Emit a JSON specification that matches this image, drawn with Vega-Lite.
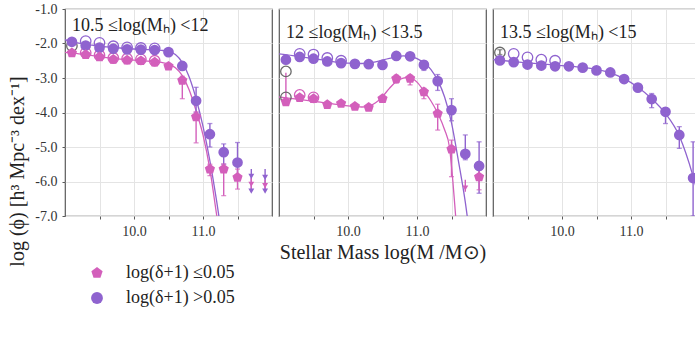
{
  "$schema": "https://vega.github.io/schema/vega-lite/v6.json",
  "padding": {"left": 6, "top": 1, "right": 0, "bottom": 5},
  "background": "white",
  "spacing": 4,
  "datasets": {
    "pts": [
      {"p": 1, "g": "high", "x": 9.1, "y": -1.95}, {"p": 1, "g": "high", "x": 9.3, "y": -2.06}, {"p": 1, "g": "high", "x": 9.5, "y": -2.12}, {"p": 1, "g": "high", "x": 9.7, "y": -2.15}, {"p": 1, "g": "high", "x": 9.9, "y": -2.17}, {"p": 1, "g": "high", "x": 10.1, "y": -2.18}, {"p": 1, "g": "high", "x": 10.3, "y": -2.19}, {"p": 1, "g": "high", "x": 10.5, "y": -2.25}, {"p": 1, "g": "high", "x": 10.7, "y": -2.65}, {"p": 1, "g": "high", "x": 10.9, "y": -3.66}, {"p": 1, "g": "high", "x": 11.1, "y": -4.63}, {"p": 1, "g": "high", "x": 11.3, "y": -5.15}, {"p": 1, "g": "high", "x": 11.5, "y": -5.45},
      {"p": 1, "g": "low", "x": 9.1, "y": -2.27}, {"p": 1, "g": "low", "x": 9.3, "y": -2.32}, {"p": 1, "g": "low", "x": 9.5, "y": -2.39}, {"p": 1, "g": "low", "x": 9.7, "y": -2.46}, {"p": 1, "g": "low", "x": 9.9, "y": -2.48}, {"p": 1, "g": "low", "x": 10.1, "y": -2.5}, {"p": 1, "g": "low", "x": 10.3, "y": -2.54}, {"p": 1, "g": "low", "x": 10.5, "y": -2.66}, {"p": 1, "g": "low", "x": 10.7, "y": -3.07}, {"p": 1, "g": "low", "x": 10.9, "y": -4.13}, {"p": 1, "g": "low", "x": 11.1, "y": -5.64}, {"p": 1, "g": "low", "x": 11.3, "y": -5.64}, {"p": 1, "g": "low", "x": 11.5, "y": -5.88},
      {"p": 2, "g": "high", "x": 9.1, "y": -2.47}, {"p": 2, "g": "high", "x": 9.3, "y": -2.39}, {"p": 2, "g": "high", "x": 9.5, "y": -2.44}, {"p": 2, "g": "high", "x": 9.7, "y": -2.52}, {"p": 2, "g": "high", "x": 9.9, "y": -2.57}, {"p": 2, "g": "high", "x": 10.1, "y": -2.59}, {"p": 2, "g": "high", "x": 10.3, "y": -2.6}, {"p": 2, "g": "high", "x": 10.5, "y": -2.62}, {"p": 2, "g": "high", "x": 10.7, "y": -2.36}, {"p": 2, "g": "high", "x": 10.9, "y": -2.37}, {"p": 2, "g": "high", "x": 11.1, "y": -2.62}, {"p": 2, "g": "high", "x": 11.3, "y": -3.09}, {"p": 2, "g": "high", "x": 11.5, "y": -3.93}, {"p": 2, "g": "high", "x": 11.7, "y": -5.2}, {"p": 2, "g": "high", "x": 11.9, "y": -5.55},
      {"p": 2, "g": "low", "x": 9.1, "y": -3.69}, {"p": 2, "g": "low", "x": 9.3, "y": -3.57}, {"p": 2, "g": "low", "x": 9.5, "y": -3.6}, {"p": 2, "g": "low", "x": 9.7, "y": -3.77}, {"p": 2, "g": "low", "x": 9.9, "y": -3.74}, {"p": 2, "g": "low", "x": 10.1, "y": -3.82}, {"p": 2, "g": "low", "x": 10.3, "y": -3.85}, {"p": 2, "g": "low", "x": 10.5, "y": -3.6}, {"p": 2, "g": "low", "x": 10.7, "y": -3.02}, {"p": 2, "g": "low", "x": 10.9, "y": -3.01}, {"p": 2, "g": "low", "x": 11.1, "y": -3.4}, {"p": 2, "g": "low", "x": 11.3, "y": -4.03}, {"p": 2, "g": "low", "x": 11.5, "y": -5.06}, {"p": 2, "g": "low", "x": 11.9, "y": -5.87},
      {"p": 3, "g": "high", "x": 9.1, "y": -2.49}, {"p": 3, "g": "high", "x": 9.3, "y": -2.54}, {"p": 3, "g": "high", "x": 9.5, "y": -2.61}, {"p": 3, "g": "high", "x": 9.7, "y": -2.64}, {"p": 3, "g": "high", "x": 9.9, "y": -2.66}, {"p": 3, "g": "high", "x": 10.1, "y": -2.66}, {"p": 3, "g": "high", "x": 10.3, "y": -2.7}, {"p": 3, "g": "high", "x": 10.5, "y": -2.78}, {"p": 3, "g": "high", "x": 10.7, "y": -2.84}, {"p": 3, "g": "high", "x": 10.9, "y": -3.03}, {"p": 3, "g": "high", "x": 11.1, "y": -3.28}, {"p": 3, "g": "high", "x": 11.3, "y": -3.61}, {"p": 3, "g": "high", "x": 11.5, "y": -3.98}, {"p": 3, "g": "high", "x": 11.7, "y": -4.65}, {"p": 3, "g": "high", "x": 11.9, "y": -5.9}
    ],
    "err": [
      {"p": 1, "g": "high", "x": 10.5, "lo": -2.32, "hi": -2.18}, {"p": 1, "g": "high", "x": 10.7, "lo": -2.75, "hi": -2.54}, {"p": 1, "g": "high", "x": 10.9, "lo": -4.0, "hi": -3.27}, {"p": 1, "g": "high", "x": 11.1, "lo": -5.0, "hi": -4.32}, {"p": 1, "g": "high", "x": 11.3, "lo": -5.5, "hi": -4.91}, {"p": 1, "g": "high", "x": 11.5, "lo": -5.83, "hi": -4.87},
      {"p": 1, "g": "low", "x": 10.5, "lo": -2.75, "hi": -2.58}, {"p": 1, "g": "low", "x": 10.7, "lo": -3.6, "hi": -2.95}, {"p": 1, "g": "low", "x": 10.9, "lo": -4.88, "hi": -3.98}, {"p": 1, "g": "low", "x": 11.1, "lo": -5.83, "hi": -5.5}, {"p": 1, "g": "low", "x": 11.3, "lo": -6.41, "hi": -5.49}, {"p": 1, "g": "low", "x": 11.5, "lo": -6.22, "hi": -5.64},
      {"p": 2, "g": "high", "x": 11.1, "lo": -2.78, "hi": -2.5}, {"p": 2, "g": "high", "x": 11.3, "lo": -3.36, "hi": -2.9}, {"p": 2, "g": "high", "x": 11.5, "lo": -4.24, "hi": -3.6}, {"p": 2, "g": "high", "x": 11.7, "lo": -5.37, "hi": -4.65}, {"p": 2, "g": "high", "x": 11.9, "lo": -6.34, "hi": -4.85},
      {"p": 2, "g": "low", "x": 10.7, "lo": -3.15, "hi": -2.92}, {"p": 2, "g": "low", "x": 10.9, "lo": -3.2, "hi": -2.92}, {"p": 2, "g": "low", "x": 11.1, "lo": -3.6, "hi": -3.3}, {"p": 2, "g": "low", "x": 11.3, "lo": -4.51, "hi": -3.76}, {"p": 2, "g": "low", "x": 11.5, "lo": -5.86, "hi": -4.8}, {"p": 2, "g": "low", "x": 11.9, "lo": -6.24, "hi": -5.62},
      {"p": 2, "g": "low", "x": 9.1, "lo": -3.6, "hi": -2.85},
      {"p": 3, "g": "high", "x": 11.3, "lo": -3.86, "hi": -3.45}, {"p": 3, "g": "high", "x": 11.5, "lo": -4.32, "hi": -3.86}, {"p": 3, "g": "high", "x": 11.7, "lo": -5.04, "hi": -4.41}, {"p": 3, "g": "high", "x": 11.9, "lo": -7.0, "hi": -4.85},
      {"p": 3, "g": "gray", "x": 9.1, "lo": -2.32, "hi": -2.18}
    ],
    "lim": [
      {"p": 1, "g": "high", "x": 11.7, "y": -5.85, "lo": -6.28, "hi": -5.64}, {"p": 1, "g": "high", "x": 11.7, "y": -6.28, "lo": -6.28, "hi": -6.28},
      {"p": 1, "g": "low", "x": 11.7, "y": -6.08, "lo": -6.3, "hi": -5.9},
      {"p": 1, "g": "high", "x": 11.9, "y": -5.88, "lo": -6.28, "hi": -5.64}, {"p": 1, "g": "high", "x": 11.9, "y": -6.28, "lo": -6.28, "hi": -6.28},
      {"p": 1, "g": "low", "x": 11.9, "y": -6.12, "lo": -6.3, "hi": -5.95},
      {"p": 2, "g": "low", "x": 11.7, "y": -6.19, "lo": -6.3, "hi": -5.95}
    ],
    "open": [
      {"p": 1, "g": "high", "x": 9.3, "y": -1.93}, {"p": 1, "g": "high", "x": 9.5, "y": -1.98}, {"p": 1, "g": "high", "x": 9.7, "y": -2.08}, {"p": 1, "g": "high", "x": 9.9, "y": -2.11}, {"p": 1, "g": "high", "x": 10.1, "y": -2.13}, {"p": 1, "g": "high", "x": 10.3, "y": -2.14},
      {"p": 1, "g": "low", "x": 9.3, "y": -2.27}, {"p": 1, "g": "low", "x": 9.5, "y": -2.34}, {"p": 1, "g": "low", "x": 9.7, "y": -2.42}, {"p": 1, "g": "low", "x": 9.9, "y": -2.44}, {"p": 1, "g": "low", "x": 10.1, "y": -2.46}, {"p": 1, "g": "low", "x": 10.3, "y": -2.5},
      {"p": 1, "g": "gray", "x": 9.1, "y": -2.07},
      {"p": 2, "g": "high", "x": 9.3, "y": -2.3}, {"p": 2, "g": "high", "x": 9.5, "y": -2.32}, {"p": 2, "g": "high", "x": 9.7, "y": -2.42}, {"p": 2, "g": "high", "x": 9.9, "y": -2.5},
      {"p": 2, "g": "low", "x": 9.3, "y": -3.49}, {"p": 2, "g": "low", "x": 9.5, "y": -3.56},
      {"p": 2, "g": "gray", "x": 9.1, "y": -2.81}, {"p": 2, "g": "gray", "x": 9.1, "y": -3.56},
      {"p": 3, "g": "high", "x": 9.3, "y": -2.3}, {"p": 3, "g": "high", "x": 9.5, "y": -2.4}, {"p": 3, "g": "high", "x": 9.7, "y": -2.47}, {"p": 3, "g": "high", "x": 9.9, "y": -2.5},
      {"p": 3, "g": "gray", "x": 9.1, "y": -2.26}
    ],
    "fit": [
      {"p": 1, "g": "high", "x": 9.0, "y": -1.89}, {"p": 1, "g": "high", "x": 9.2, "y": -1.99}, {"p": 1, "g": "high", "x": 9.4, "y": -2.05}, {"p": 1, "g": "high", "x": 9.6, "y": -2.1}, {"p": 1, "g": "high", "x": 9.8, "y": -2.13}, {"p": 1, "g": "high", "x": 10.0, "y": -2.16}, {"p": 1, "g": "high", "x": 10.2, "y": -2.18}, {"p": 1, "g": "high", "x": 10.4, "y": -2.2}, {"p": 1, "g": "high", "x": 10.5, "y": -2.23}, {"p": 1, "g": "high", "x": 10.6, "y": -2.32}, {"p": 1, "g": "high", "x": 10.7, "y": -2.55}, {"p": 1, "g": "high", "x": 10.8, "y": -2.97}, {"p": 1, "g": "high", "x": 10.9, "y": -3.6}, {"p": 1, "g": "high", "x": 11.0, "y": -4.4}, {"p": 1, "g": "high", "x": 11.1, "y": -5.4}, {"p": 1, "g": "high", "x": 11.2, "y": -6.6}, {"p": 1, "g": "high", "x": 11.26, "y": -7.4},
      {"p": 1, "g": "low", "x": 9.0, "y": -2.26}, {"p": 1, "g": "low", "x": 9.2, "y": -2.3}, {"p": 1, "g": "low", "x": 9.4, "y": -2.35}, {"p": 1, "g": "low", "x": 9.6, "y": -2.41}, {"p": 1, "g": "low", "x": 9.8, "y": -2.45}, {"p": 1, "g": "low", "x": 10.0, "y": -2.48}, {"p": 1, "g": "low", "x": 10.2, "y": -2.51}, {"p": 1, "g": "low", "x": 10.4, "y": -2.55}, {"p": 1, "g": "low", "x": 10.5, "y": -2.6}, {"p": 1, "g": "low", "x": 10.6, "y": -2.7}, {"p": 1, "g": "low", "x": 10.7, "y": -2.93}, {"p": 1, "g": "low", "x": 10.8, "y": -3.35}, {"p": 1, "g": "low", "x": 10.9, "y": -3.95}, {"p": 1, "g": "low", "x": 11.0, "y": -4.65}, {"p": 1, "g": "low", "x": 11.1, "y": -5.65}, {"p": 1, "g": "low", "x": 11.2, "y": -7.0}, {"p": 1, "g": "low", "x": 11.23, "y": -7.4},
      {"p": 2, "g": "high", "x": 9.0, "y": -2.3}, {"p": 2, "g": "high", "x": 9.2, "y": -2.35}, {"p": 2, "g": "high", "x": 9.4, "y": -2.41}, {"p": 2, "g": "high", "x": 9.6, "y": -2.47}, {"p": 2, "g": "high", "x": 9.8, "y": -2.53}, {"p": 2, "g": "high", "x": 10.0, "y": -2.57}, {"p": 2, "g": "high", "x": 10.2, "y": -2.58}, {"p": 2, "g": "high", "x": 10.4, "y": -2.53}, {"p": 2, "g": "high", "x": 10.6, "y": -2.43}, {"p": 2, "g": "high", "x": 10.8, "y": -2.36}, {"p": 2, "g": "high", "x": 10.9, "y": -2.37}, {"p": 2, "g": "high", "x": 11.0, "y": -2.44}, {"p": 2, "g": "high", "x": 11.1, "y": -2.56}, {"p": 2, "g": "high", "x": 11.2, "y": -2.75}, {"p": 2, "g": "high", "x": 11.3, "y": -3.07}, {"p": 2, "g": "high", "x": 11.4, "y": -3.55}, {"p": 2, "g": "high", "x": 11.5, "y": -4.3}, {"p": 2, "g": "high", "x": 11.6, "y": -5.4}, {"p": 2, "g": "high", "x": 11.7, "y": -6.6}, {"p": 2, "g": "high", "x": 11.76, "y": -7.5},
      {"p": 2, "g": "low", "x": 9.0, "y": -3.55}, {"p": 2, "g": "low", "x": 9.2, "y": -3.6}, {"p": 2, "g": "low", "x": 9.4, "y": -3.65}, {"p": 2, "g": "low", "x": 9.6, "y": -3.7}, {"p": 2, "g": "low", "x": 9.8, "y": -3.76}, {"p": 2, "g": "low", "x": 10.0, "y": -3.81}, {"p": 2, "g": "low", "x": 10.2, "y": -3.84}, {"p": 2, "g": "low", "x": 10.3, "y": -3.82}, {"p": 2, "g": "low", "x": 10.4, "y": -3.72}, {"p": 2, "g": "low", "x": 10.5, "y": -3.54}, {"p": 2, "g": "low", "x": 10.6, "y": -3.3}, {"p": 2, "g": "low", "x": 10.7, "y": -3.1}, {"p": 2, "g": "low", "x": 10.8, "y": -3.0}, {"p": 2, "g": "low", "x": 10.87, "y": -2.98}, {"p": 2, "g": "low", "x": 11.0, "y": -3.12}, {"p": 2, "g": "low", "x": 11.1, "y": -3.38}, {"p": 2, "g": "low", "x": 11.2, "y": -3.66}, {"p": 2, "g": "low", "x": 11.3, "y": -4.02}, {"p": 2, "g": "low", "x": 11.4, "y": -4.5}, {"p": 2, "g": "low", "x": 11.47, "y": -5.0}, {"p": 2, "g": "low", "x": 11.52, "y": -6.0}, {"p": 2, "g": "low", "x": 11.56, "y": -7.0}, {"p": 2, "g": "low", "x": 11.58, "y": -7.5},
      {"p": 3, "g": "high", "x": 9.0, "y": -2.47}, {"p": 3, "g": "high", "x": 9.5, "y": -2.56}, {"p": 3, "g": "high", "x": 10.0, "y": -2.64}, {"p": 3, "g": "high", "x": 10.3, "y": -2.69}, {"p": 3, "g": "high", "x": 10.5, "y": -2.75}, {"p": 3, "g": "high", "x": 10.7, "y": -2.85}, {"p": 3, "g": "high", "x": 10.9, "y": -3.02}, {"p": 3, "g": "high", "x": 11.1, "y": -3.27}, {"p": 3, "g": "high", "x": 11.3, "y": -3.6}, {"p": 3, "g": "high", "x": 11.5, "y": -4.03}, {"p": 3, "g": "high", "x": 11.7, "y": -4.68}, {"p": 3, "g": "high", "x": 11.9, "y": -5.85}, {"p": 3, "g": "high", "x": 12.0, "y": -6.6}
    ]
  },
  "hconcat": [
    {
      "width": 207, "height": 207,
      "title": {"text": "10.5 ≤log(Mₕ) <12", "anchor": "start", "frame": "group", "offset": -24, "dx": 7, "dy": 23, "baseline": "alphabetic", "fontSize": 18, "fontWeight": "normal", "font": "Liberation Serif", "color": "#222"},
      "encoding": {
        "x": {"field": "x", "type": "quantitative", "scale": {"domain": [9, 12], "nice": false, "zero": false},
              "axis": {"values": [9.5, 10, 10.5, 11, 11.5], "labelExpr": "datum.value == 10 || datum.value == 11 ? format(datum.value, '.1f') : ''", "title": null, "labelFlush": false, "labelOverlap": false}},
        "y": {"field": "y", "type": "quantitative", "scale": {"domain": [-7, -1], "nice": false, "zero": false},
              "axis": {"values": [-1, -2, -3, -4, -5, -6, -7], "labelExpr": "'-' + format(abs(datum.value), '.1f')", "labelFlush": false, "labelOverlap": false,
                       "title": "log (ϕ) [h³ Mpc⁻³ dex⁻¹]", "titleFontSize": 20, "titleX": -48, "titleY": 162, "titleAlign": "center", "titleBaseline": "middle", "titleAngle": -90}}
      },
      "layer": [
        {"data": {"name": "fit"}, "transform": [{"filter": "datum.p == 1"}],
         "mark": {"type": "line", "interpolate": "monotone", "clip": true, "strokeWidth": 1.3},
         "encoding": {"stroke": {"field": "g", "type": "nominal", "scale": {"domain": ["low", "high", "gray"], "range": ["#d35fbb", "#8f63cf", "#6a6a6a"]}, "legend": null}}},
        {"data": {"name": "err"}, "transform": [{"filter": "datum.p == 1"}],
         "mark": {"type": "rule", "strokeWidth": 1.4, "clip": true},
         "encoding": {"y": {"field": "lo", "type": "quantitative"}, "y2": {"field": "hi"},
                      "stroke": {"field": "g", "type": "nominal", "scale": {"domain": ["low", "high", "gray"], "range": ["#d35fbb", "#8f63cf", "#6a6a6a"]}, "legend": null}}},
        {"data": {"name": "err"}, "transform": [{"filter": "datum.p == 1"}],
         "mark": {"type": "tick", "orient": "horizontal", "size": 5, "thickness": 1.3, "clip": true},
         "encoding": {"y": {"field": "lo", "type": "quantitative"},
                      "fill": {"field": "g", "type": "nominal", "scale": {"domain": ["low", "high", "gray"], "range": ["#d35fbb", "#8f63cf", "#6a6a6a"]}, "legend": null}}},
        {"data": {"name": "err"}, "transform": [{"filter": "datum.p == 1"}],
         "mark": {"type": "tick", "orient": "horizontal", "size": 5, "thickness": 1.3, "clip": true},
         "encoding": {"y": {"field": "hi", "type": "quantitative"},
                      "fill": {"field": "g", "type": "nominal", "scale": {"domain": ["low", "high", "gray"], "range": ["#d35fbb", "#8f63cf", "#6a6a6a"]}, "legend": null}}},
        {"data": {"name": "lim"}, "transform": [{"filter": "datum.p == 1"}],
         "mark": {"type": "rule", "strokeWidth": 1.4, "clip": true},
         "encoding": {"y": {"field": "lo", "type": "quantitative"}, "y2": {"field": "hi"},
                      "stroke": {"field": "g", "type": "nominal", "scale": {"domain": ["low", "high", "gray"], "range": ["#d35fbb", "#8f63cf", "#6a6a6a"]}, "legend": null}}},
        {"data": {"name": "lim"}, "transform": [{"filter": "datum.p == 1"}],
         "mark": {"type": "point", "shape": "triangle-down", "filled": true, "opacity": 1, "size": 35, "clip": true},
         "encoding": {"fill": {"field": "g", "type": "nominal", "scale": {"domain": ["low", "high", "gray"], "range": ["#d35fbb", "#8f63cf", "#6a6a6a"]}, "legend": null}}},
        {"data": {"name": "open"}, "transform": [{"filter": "datum.p == 1"}],
         "mark": {"type": "point", "filled": false, "strokeWidth": 1.3, "size": 110, "opacity": 1},
         "encoding": {"stroke": {"field": "g", "type": "nominal", "scale": {"domain": ["low", "high", "gray"], "range": ["#d35fbb", "#8f63cf", "#6a6a6a"]}, "legend": null}}},
        {"data": {"name": "pts"}, "transform": [{"filter": "datum.p == 1"}],
         "mark": {"type": "point", "filled": true, "size": 115, "opacity": 1, "clip": true},
         "encoding": {
           "color": {"field": "g", "type": "nominal", "scale": {"domain": ["low", "high"], "range": ["#d35fbb", "#8f63cf"]},
                     "legend": {"orient": "none", "legendX": 23, "legendY": 255, "title": null, "labelExpr": "datum.value == 'low' ? 'log(δ+1) ≤0.05' : 'log(δ+1) >0.05'"}},
           "shape": {"field": "g", "type": "nominal", "scale": {"domain": ["low", "high"], "range": ["M0,-1L0.951,-0.309L0.588,0.809L-0.588,0.809L-0.951,-0.309Z", "circle"]},
                     "legend": {"orient": "none", "legendX": 23, "legendY": 255, "title": null, "labelExpr": "datum.value == 'low' ? 'log(δ+1) ≤0.05' : 'log(δ+1) >0.05'"}}
         }}
      ]
    },
    {
      "width": 207, "height": 207,
      "title": {"text": "12 ≤log(Mₕ) <13.5", "anchor": "start", "frame": "group", "offset": -24, "dx": 7, "dy": 23, "baseline": "alphabetic", "fontSize": 18, "fontWeight": "normal", "font": "Liberation Serif", "color": "#222"},
      "encoding": {
        "x": {"field": "x", "type": "quantitative", "scale": {"domain": [9, 12], "nice": false, "zero": false},
              "axis": {"values": [9.5, 10, 10.5, 11, 11.5], "labelExpr": "datum.value == 10 || datum.value == 11 ? format(datum.value, '.1f') : ''", "title": "Stellar Mass log(M /M⊙)", "titleFontSize": 20, "labelFlush": false, "labelOverlap": false}},
        "y": {"field": "y", "type": "quantitative", "scale": {"domain": [-7, -1], "nice": false, "zero": false},
              "axis": {"values": [-1, -2, -3, -4, -5, -6, -7], "labels": false, "ticks": false, "title": null}}
      },
      "layer": [
        {"data": {"name": "fit"}, "transform": [{"filter": "datum.p == 2"}],
         "mark": {"type": "line", "interpolate": "monotone", "clip": true, "strokeWidth": 1.3},
         "encoding": {"stroke": {"field": "g", "type": "nominal", "scale": {"domain": ["low", "high", "gray"], "range": ["#d35fbb", "#8f63cf", "#6a6a6a"]}, "legend": null}}},
        {"data": {"name": "err"}, "transform": [{"filter": "datum.p == 2"}],
         "mark": {"type": "rule", "strokeWidth": 1.4, "clip": true},
         "encoding": {"y": {"field": "lo", "type": "quantitative"}, "y2": {"field": "hi"},
                      "stroke": {"field": "g", "type": "nominal", "scale": {"domain": ["low", "high", "gray"], "range": ["#d35fbb", "#8f63cf", "#6a6a6a"]}, "legend": null}}},
        {"data": {"name": "err"}, "transform": [{"filter": "datum.p == 2 && datum.x > 9.2"}],
         "mark": {"type": "tick", "orient": "horizontal", "size": 5, "thickness": 1.3, "clip": true},
         "encoding": {"y": {"field": "lo", "type": "quantitative"},
                      "fill": {"field": "g", "type": "nominal", "scale": {"domain": ["low", "high", "gray"], "range": ["#d35fbb", "#8f63cf", "#6a6a6a"]}, "legend": null}}},
        {"data": {"name": "err"}, "transform": [{"filter": "datum.p == 2 && datum.x > 9.2"}],
         "mark": {"type": "tick", "orient": "horizontal", "size": 5, "thickness": 1.3, "clip": true},
         "encoding": {"y": {"field": "hi", "type": "quantitative"},
                      "fill": {"field": "g", "type": "nominal", "scale": {"domain": ["low", "high", "gray"], "range": ["#d35fbb", "#8f63cf", "#6a6a6a"]}, "legend": null}}},
        {"data": {"name": "lim"}, "transform": [{"filter": "datum.p == 2"}],
         "mark": {"type": "rule", "strokeWidth": 1.4, "clip": true},
         "encoding": {"y": {"field": "lo", "type": "quantitative"}, "y2": {"field": "hi"},
                      "stroke": {"field": "g", "type": "nominal", "scale": {"domain": ["low", "high", "gray"], "range": ["#d35fbb", "#8f63cf", "#6a6a6a"]}, "legend": null}}},
        {"data": {"name": "lim"}, "transform": [{"filter": "datum.p == 2"}],
         "mark": {"type": "point", "shape": "triangle-down", "filled": true, "opacity": 1, "size": 35, "clip": true},
         "encoding": {"fill": {"field": "g", "type": "nominal", "scale": {"domain": ["low", "high", "gray"], "range": ["#d35fbb", "#8f63cf", "#6a6a6a"]}, "legend": null}}},
        {"data": {"name": "open"}, "transform": [{"filter": "datum.p == 2"}],
         "mark": {"type": "point", "filled": false, "strokeWidth": 1.3, "size": 110, "opacity": 1},
         "encoding": {"stroke": {"field": "g", "type": "nominal", "scale": {"domain": ["low", "high", "gray"], "range": ["#d35fbb", "#8f63cf", "#6a6a6a"]}, "legend": null}}},
        {"data": {"name": "pts"}, "transform": [{"filter": "datum.p == 2"}],
         "mark": {"type": "point", "filled": true, "size": 115, "opacity": 1, "clip": true},
         "encoding": {
           "color": {"field": "g", "type": "nominal", "scale": {"domain": ["low", "high"], "range": ["#d35fbb", "#8f63cf"]},
                     "legend": {"orient": "none", "legendX": 23, "legendY": 255, "title": null, "labelExpr": "datum.value == 'low' ? 'log(δ+1) ≤0.05' : 'log(δ+1) >0.05'"}},
           "shape": {"field": "g", "type": "nominal", "scale": {"domain": ["low", "high"], "range": ["M0,-1L0.951,-0.309L0.588,0.809L-0.588,0.809L-0.951,-0.309Z", "circle"]},
                     "legend": {"orient": "none", "legendX": 23, "legendY": 255, "title": null, "labelExpr": "datum.value == 'low' ? 'log(δ+1) ≤0.05' : 'log(δ+1) >0.05'"}}
         }}
      ]
    },
    {
      "width": 207, "height": 207,
      "title": {"text": "13.5 ≤log(Mₕ) <15", "anchor": "start", "frame": "group", "offset": -24, "dx": 7, "dy": 23, "baseline": "alphabetic", "fontSize": 18, "fontWeight": "normal", "font": "Liberation Serif", "color": "#222"},
      "encoding": {
        "x": {"field": "x", "type": "quantitative", "scale": {"domain": [9, 12], "nice": false, "zero": false},
              "axis": {"values": [9.5, 10, 10.5, 11, 11.5], "labelExpr": "datum.value == 10 || datum.value == 11 ? format(datum.value, '.1f') : ''", "title": null, "labelFlush": false, "labelOverlap": false}},
        "y": {"field": "y", "type": "quantitative", "scale": {"domain": [-7, -1], "nice": false, "zero": false},
              "axis": {"values": [-1, -2, -3, -4, -5, -6, -7], "labels": false, "ticks": false, "title": null}}
      },
      "layer": [
        {"data": {"name": "fit"}, "transform": [{"filter": "datum.p == 3"}],
         "mark": {"type": "line", "interpolate": "monotone", "clip": true, "strokeWidth": 1.3},
         "encoding": {"stroke": {"field": "g", "type": "nominal", "scale": {"domain": ["low", "high", "gray"], "range": ["#d35fbb", "#8f63cf", "#6a6a6a"]}, "legend": null}}},
        {"data": {"name": "err"}, "transform": [{"filter": "datum.p == 3"}],
         "mark": {"type": "rule", "strokeWidth": 1.4, "clip": true},
         "encoding": {"y": {"field": "lo", "type": "quantitative"}, "y2": {"field": "hi"},
                      "stroke": {"field": "g", "type": "nominal", "scale": {"domain": ["low", "high", "gray"], "range": ["#d35fbb", "#8f63cf", "#6a6a6a"]}, "legend": null}}},
        {"data": {"name": "err"}, "transform": [{"filter": "datum.p == 3"}],
         "mark": {"type": "tick", "orient": "horizontal", "size": 5, "thickness": 1.3, "clip": true},
         "encoding": {"y": {"field": "lo", "type": "quantitative"},
                      "fill": {"field": "g", "type": "nominal", "scale": {"domain": ["low", "high", "gray"], "range": ["#d35fbb", "#8f63cf", "#6a6a6a"]}, "legend": null}}},
        {"data": {"name": "err"}, "transform": [{"filter": "datum.p == 3"}],
         "mark": {"type": "tick", "orient": "horizontal", "size": 5, "thickness": 1.3, "clip": true},
         "encoding": {"y": {"field": "hi", "type": "quantitative"},
                      "fill": {"field": "g", "type": "nominal", "scale": {"domain": ["low", "high", "gray"], "range": ["#d35fbb", "#8f63cf", "#6a6a6a"]}, "legend": null}}},
        {"data": {"name": "open"}, "transform": [{"filter": "datum.p == 3"}],
         "mark": {"type": "point", "filled": false, "strokeWidth": 1.3, "size": 110, "opacity": 1},
         "encoding": {"stroke": {"field": "g", "type": "nominal", "scale": {"domain": ["low", "high", "gray"], "range": ["#d35fbb", "#8f63cf", "#6a6a6a"]}, "legend": null}}},
        {"data": {"name": "pts"}, "transform": [{"filter": "datum.p == 3"}],
         "mark": {"type": "point", "filled": true, "size": 115, "opacity": 1, "clip": true},
         "encoding": {
           "color": {"field": "g", "type": "nominal", "scale": {"domain": ["low", "high"], "range": ["#d35fbb", "#8f63cf"]},
                     "legend": {"orient": "none", "legendX": 23, "legendY": 255, "title": null, "labelExpr": "datum.value == 'low' ? 'log(δ+1) ≤0.05' : 'log(δ+1) >0.05'"}},
           "shape": {"field": "g", "type": "nominal", "scale": {"domain": ["low", "high"], "range": ["M0,-1L0.951,-0.309L0.588,0.809L-0.588,0.809L-0.951,-0.309Z", "circle"]},
                     "legend": {"orient": "none", "legendX": 23, "legendY": 255, "title": null, "labelExpr": "datum.value == 'low' ? 'log(δ+1) ≤0.05' : 'log(δ+1) >0.05'"}}
         }}
      ]
    }
  ],
  "config": {
    "font": "Liberation Serif",
    "view": {"stroke": "#5a5a5a", "strokeWidth": 1.2},
    "axis": {"labelFont": "Liberation Serif", "labelFontSize": 14, "labelColor": "#333", "gridColor": "#e4e4e4", "gridWidth": 1, "domain": false, "tickColor": "#5a5a5a", "tickSize": 3, "labelPadding": 5, "titleFont": "Liberation Serif", "titleFontWeight": "normal", "titleColor": "#222", "titlePadding": 4},
    "legend": {"labelFont": "Liberation Serif", "labelFontSize": 18, "labelColor": "#222", "symbolSize": 140, "rowPadding": 7, "labelOffset": 20, "symbolStrokeWidth": 0, "symbolOpacity": 1}
  }
}
